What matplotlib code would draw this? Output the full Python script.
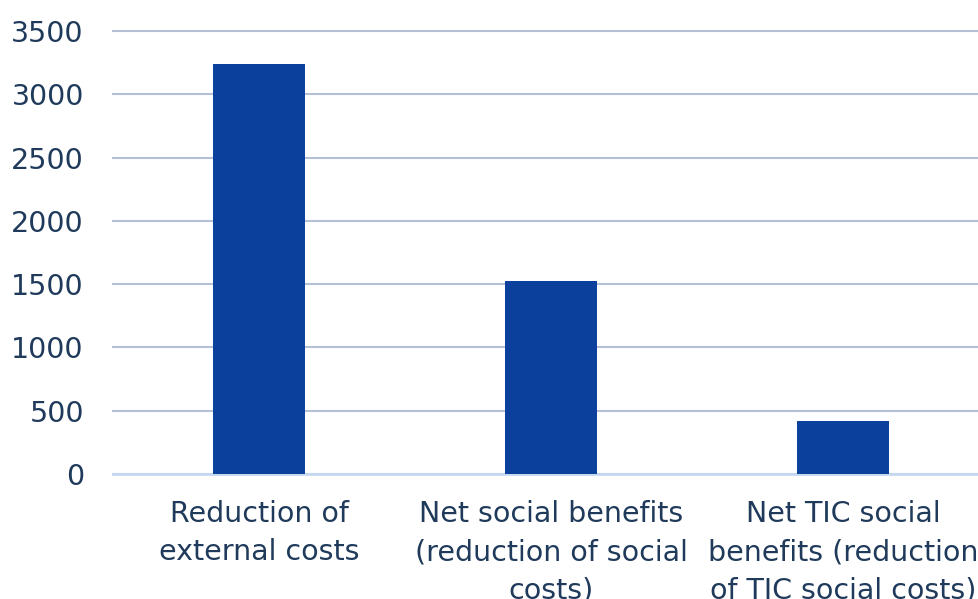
import matplotlib.pyplot as plt

categories = [
    "Reduction of\nexternal costs",
    "Net social benefits\n(reduction of social\ncosts)",
    "Net TIC social\nbenefits (reduction\nof TIC social costs)",
]
values = [3240, 1525, 420]
yticks = [0, 500, 1000, 1500, 2000, 2500, 3000, 3500]

text_color = "#1F3A5A"

fig = plt.figure(figsize=(9.79, 5.99), dpi=100, facecolor="white")
ax = fig.add_axes([113 / 979, 125 / 599, 876 / 979, 443 / 599])

x = range(len(categories))
ax.bar(x, values, width=0.315, color="#0B409C", zorder=3)

ax.set_xlim(-0.5, 2.5)
ax.set_ylim(0, 3500)
ax.set_yticks(yticks)
ax.set_xticks(list(x))
ax.set_xticklabels(categories, fontsize=20.5, color=text_color, linespacing=1.45)
ax.tick_params(axis="y", labelsize=20.5, labelcolor=text_color, length=0, pad=21)
ax.tick_params(axis="x", length=0, pad=19)

ax.grid(axis="y", color="#B4C0D6", linewidth=1.5, zorder=0)
for gl in ax.get_ygridlines():
    gl.set_clip_on(False)
for s in ["top", "right", "left"]:
    ax.spines[s].set_visible(False)
ax.spines["bottom"].set_color("#C6D9F1")
ax.spines["bottom"].set_linewidth(2)

fig.savefig("out.png", dpi=100, facecolor="white")
